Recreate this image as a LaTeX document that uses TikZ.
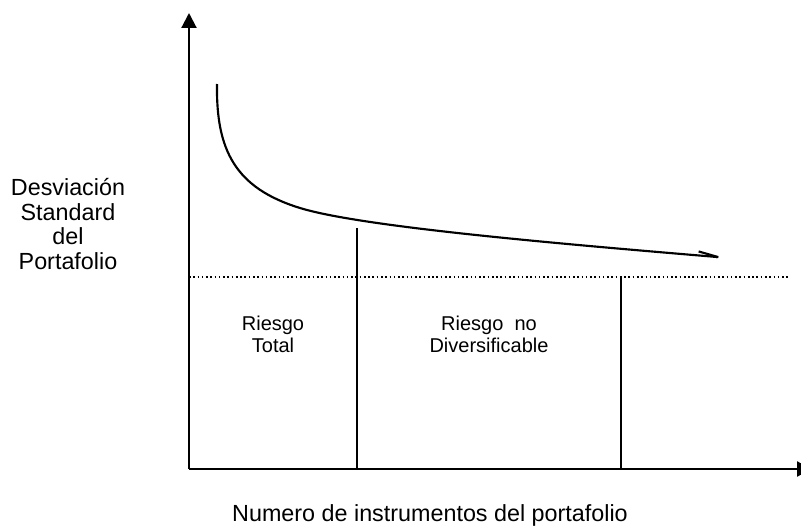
\documentclass[tikz,border=0pt]{standalone}
\usepackage{fontspec}
\setmainfont{Liberation Sans}
\usetikzlibrary{arrows.meta}
\begin{document}
\begin{tikzpicture}[x=0.75pt,y=-0.75pt,
  axis/.style={line width=1.6pt,-{Triangle[length=11.25pt,width=11.25pt]}},
  divider/.style={line width=1.2pt},
  bigtext/.style={font=\fontsize{17.5}{18.4}\selectfont,align=center,inner sep=0pt},
  smalltext/.style={font=\fontsize{15}{16.5}\selectfont,align=center,inner sep=0pt}]
\useasboundingbox (0,0) rectangle (801,528);
\clip (0,0) rectangle (801,528);
\coordinate (O) at (189,469);
\coordinate (ytop) at (189,13);
\coordinate (xend) at (812,469);
\draw[axis] (O) -- (ytop);
\draw[axis] (O) -- (xend);
\coordinate (d1) at (189,277);
\coordinate (d2) at (788,277);
\draw[line width=1.2pt,dotted] (d1) -- (d2);
\coordinate (v1t) at (357,228);
\coordinate (v1b) at (357,469);
\coordinate (v2t) at (621,277);
\coordinate (v2b) at (621,469);
\draw[divider] (v1t) -- (v1b);
\draw[divider] (v2t) -- (v2b);
\coordinate (c0) at (217,84);
\coordinate (c1) at (300,208);
\coordinate (c2) at (729,258);
\draw[line width=1.6pt,-{Straight Barb[harpoon,length=15pt,width=6pt]}]
  (c0) .. controls (216,150) and (235,188) .. (c1)
       .. controls (360,226.5) and (550,243) .. (c2);
\node[bigtext] (ylab) at (68,224) {Desviación\\Standard\\del\\Portafolio};
\node[bigtext] (xlab) at (430,515) {Numero de instrumentos del portafolio};
\node[smalltext] (rt) at (273,334) {Riesgo\\Total};
\node[smalltext] (rnd) at (489,334) {Riesgo~ no\\Diversificable};
\end{tikzpicture}
\end{document}
